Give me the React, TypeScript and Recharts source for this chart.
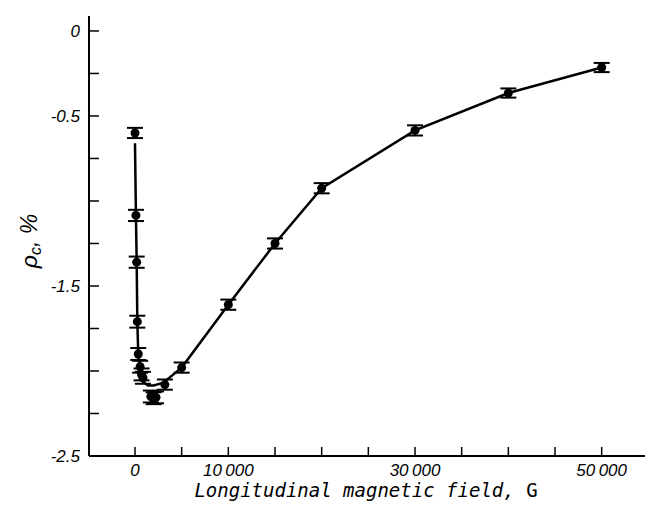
import React from "react";
import { ComposedChart, Line, Scatter, ErrorBar, XAxis, YAxis } from "recharts";

// Measured points
const fieldG = [0, 100, 180, 250, 350, 550, 700, 850, 1700, 2000, 2250, 3200, 5000, 10000, 15000, 20000, 30000, 40000, 50000];
const rhoC = [-0.6, -1.085, -1.36, -1.71, -1.9, -1.975, -2.02, -2.04, -2.15, -2.16, -2.155, -2.08, -1.98, -1.61, -1.25, -0.925, -0.585, -0.365, -0.215];
const rhoErr = [0.03, 0.033, 0.033, 0.035, 0.035, 0.035, 0.035, 0.035, 0.035, 0.035, 0.035, 0.03, 0.03, 0.03, 0.03, 0.03, 0.03, 0.027, 0.027];

// Guide curve through the data
const curveField = [0, 100, 180, 250, 350, 500, 700, 1000, 1400, 2000, 3000, 5000, 10000, 15000, 20000, 30000, 40000, 50000];
const curveRho = [-0.66, -1.085, -1.36, -1.71, -1.9, -1.99, -2.04, -2.07, -2.085, -2.085, -2.07, -1.98, -1.61, -1.25, -0.925, -0.585, -0.365, -0.215];

// Ticks
const xTicks = [0, 5000, 10000, 15000, 20000, 25000, 30000, 35000, 40000, 45000, 50000];
const xTickLabels = ["0", "", "10\u2009000", "", "", "", "30\u2009000", "", "", "", "50\u2009000"];
const yTicks = [0, -0.25, -0.5, -0.75, -1, -1.25, -1.5, -1.75, -2, -2.25, -2.5];
const yTickLabels = ["0", "", "-0.5", "", "", "", "-1.5", "", "", "", "-2.5"];

const points = fieldG.map((h, i) => ({ h, rho: rhoC[i], err: rhoErr[i] }));
const curve = curveField.map((h, i) => ({ h, fit: curveRho[i] }));

const tickFont = { fontFamily: "'Liberation Sans', Arial, sans-serif", fontStyle: "italic", fontSize: 17, fill: "#000" } as const;

const XTick = (props: any) => {
  const { x, y, index } = props;
  const label = xTickLabels[index];
  return (
    <g>
      <line x1={x} y1={y} x2={x} y2={y - 9} stroke="#000" strokeWidth={1.5} />
      {label ? (
        <text x={x} y={y + 20} textAnchor="middle" {...tickFont}>
          {label}
        </text>
      ) : null}
    </g>
  );
};

const YTick = (props: any) => {
  const { x, y, index } = props;
  const label = yTickLabels[index];
  return (
    <g>
      <line x1={x} y1={y} x2={x + 10} y2={y} stroke="#000" strokeWidth={1.5} />
      {label ? (
        <text x={x - 9} y={y + 6} textAnchor="end" {...tickFont}>
          {label}
        </text>
      ) : null}
    </g>
  );
};

const Dot = (props: any) => {
  const { cx, cy } = props;
  return <circle cx={cx} cy={cy} r={4.5} fill="#000" />;
};

const XTitle = () => (
  <text x={366} y={497} textAnchor="middle" fontFamily="'DejaVu Sans Mono', monospace" fontStyle="italic" fontSize={19} fill="#000">
    Longitudinal magnetic field,<tspan fontStyle="normal"> G</tspan>
  </text>
);

const YTitle = () => (
  <text
    x={0}
    y={0}
    transform="translate(37,241) rotate(-90)"
    textAnchor="middle"
    fontFamily="'Liberation Sans', Arial, sans-serif"
    fontStyle="italic"
    fontSize={23}
    fill="#000"
  >
    ρ<tspan fontSize={16} dy={4}>c</tspan>
    <tspan dy={-4}>, %</tspan>
  </text>
);

export default function App() {
  return (
    <div style={{ position: "absolute", left: 0, top: 0, width: 645, height: 508, background: "#fff" }}>
      <ComposedChart width={645} height={508} margin={{ top: 16, right: 0, left: 0, bottom: 0 }}>
        <XAxis
          dataKey="h"
          type="number"
          domain={[-4928, 54640]}
          allowDataOverflow
          ticks={xTicks}
          interval={0}
          tickSize={0}
          tickMargin={0}
          height={52}
          axisLine={{ stroke: "#000", strokeWidth: 2 }}
          tickLine={false}
          tick={<XTick />}
          label={<XTitle />}
        />
        <YAxis
          type="number"
          domain={[-2.5, 0.088]}
          allowDataOverflow
          ticks={yTicks}
          interval={0}
          tickSize={0}
          tickMargin={0}
          width={89}
          axisLine={{ stroke: "#000", strokeWidth: 2 }}
          tickLine={false}
          tick={<YTick />}
          label={<YTitle />}
        />
        <Line
          data={curve}
          dataKey="fit"
          type="linear"
          stroke="#000"
          strokeWidth={2.5}
          dot={false}
          activeDot={false}
          isAnimationActive={false}
        />
        <Scatter data={points} dataKey="rho" shape={<Dot />} isAnimationActive={false}>
          <ErrorBar dataKey="err" direction="y" width={8} stroke="#000" strokeWidth={2} />
        </Scatter>
      </ComposedChart>
    </div>
  );
}
